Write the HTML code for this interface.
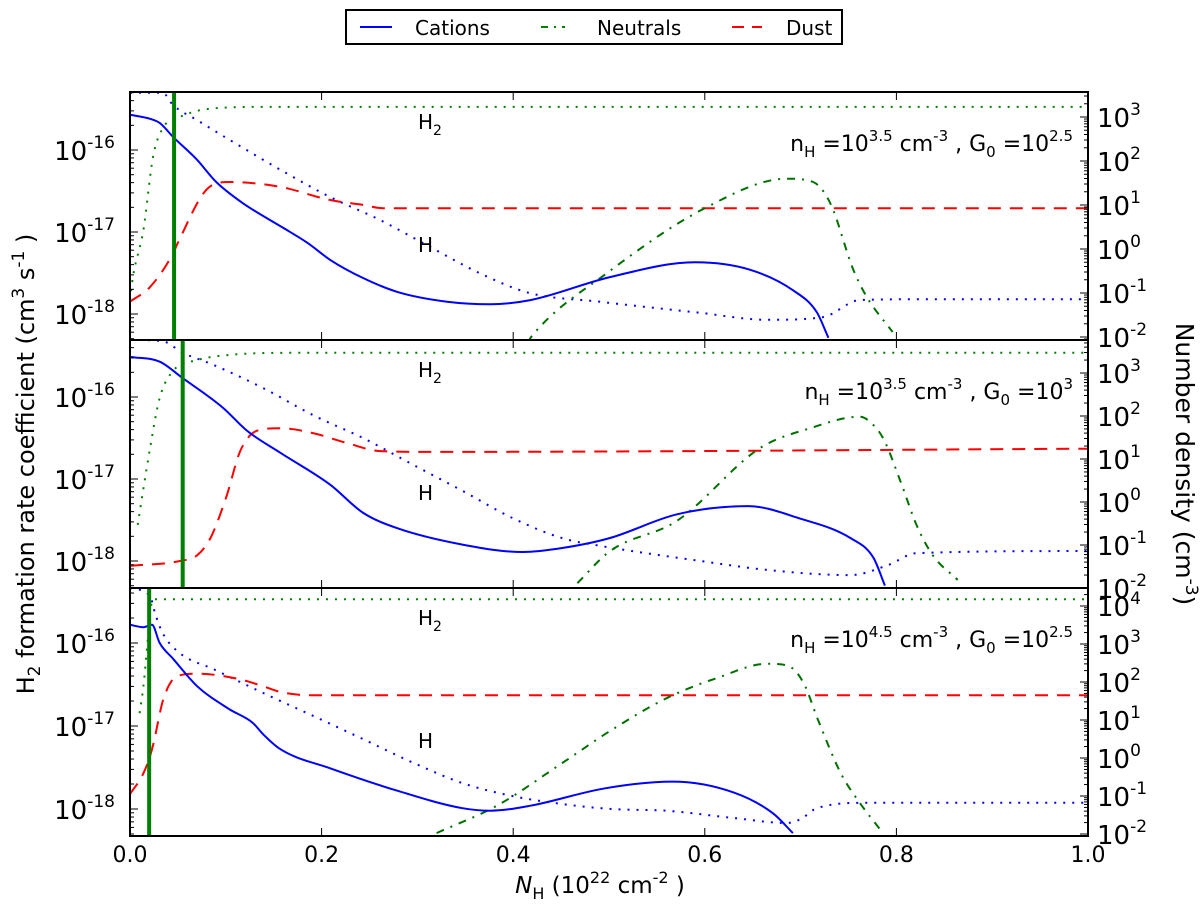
<!DOCTYPE html>
<html><head><meta charset="utf-8"><style>
html,body{margin:0;padding:0;background:#fff;}
svg{display:block;font-family:"DejaVu Sans","Liberation Sans",sans-serif;}
</style></head><body>
<svg id="chart" width="1200" height="912" viewBox="0 0 1200 912" xmlns="http://www.w3.org/2000/svg">
<g>
<rect x="346" y="10" width="496" height="34" fill="#fff" stroke="#000" stroke-width="2"/>
<line x1="360" y1="27" x2="392" y2="27" stroke="#0000ff" stroke-width="2"/>
<text x="415" y="35" font-size="20">Cations</text>
<line x1="541" y1="27" x2="565" y2="27" stroke="#008000" stroke-width="2" stroke-dasharray="7,6,2,6"/>
<text x="597" y="35" font-size="20">Neutrals</text>
<line x1="732" y1="27" x2="762" y2="27" stroke="#ff0000" stroke-width="2" stroke-dasharray="12,8"/>
<text x="786" y="35" font-size="20">Dust</text>
</g>
<text transform="translate(34,464) rotate(-90)" text-anchor="middle" font-size="24">H<tspan dy="6" font-size="17">2</tspan><tspan dy="-6"> formation rate coefficient (cm</tspan><tspan dy="-10" font-size="17">3</tspan><tspan dy="10"> s</tspan><tspan dy="-10" font-size="17">-1</tspan><tspan dy="10"> )</tspan></text>
<text transform="translate(1176,464) rotate(90)" text-anchor="middle" font-size="25">Number density (cm<tspan dy="-10" font-size="17">-3</tspan><tspan dy="10">)</tspan></text>
<text x="600" y="893" text-anchor="middle" font-size="23"><tspan font-style="italic">N</tspan><tspan dy="6" font-size="16">H</tspan><tspan dy="-6"> (10</tspan><tspan dy="-10" font-size="16">22</tspan><tspan dy="10">  cm</tspan><tspan dy="-10" font-size="16">-2</tspan><tspan dy="10"> )</tspan></text>
<g id="plots"></g>
</svg>
<script>
// ---------- data (x: N_H in 1e22 cm^-2, y: log10 values) ----------
const xTicks=[0,0.2,0.4,0.6,0.8,1.0];
const xTickLabels=["0.0","0.2","0.4","0.6","0.8","1.0"];
const leftTicks=[-16,-17,-18];
const leftTickLabels=["-16","-17","-18"];
const rightTicksA=[3,2,1,0,-1,-2];
const rightTicksC=[4,3,2,1,0,-1,-2];
const panelLabelsNH=["3.5","3.5","4.5"];
const panelLabelsG0=["2.5","3","2.5"];
const shieldTop=0.046, shieldMid=0.055, shieldBot=0.020;

// top panel
const catTopX=[0,0.021,0.031,0.045,0.070,0.090,0.118,0.160,0.185,0.209,0.243,0.279,0.331,0.376,0.418,0.501,0.59,0.647,0.692,0.717,0.729];
const catTopY=[-15.57,-15.62,-15.67,-15.84,-16.12,-16.39,-16.65,-16.95,-17.13,-17.34,-17.56,-17.73,-17.85,-17.88,-17.83,-17.55,-17.37,-17.46,-17.71,-17.98,-18.29];
const dustTopX=[0,0.021,0.045,0.05,0.083,0.104,0.157,0.209,0.243,0.264,1.0];
const dustTopY=[-17.85,-17.67,-17.26,-17.13,-16.45,-16.39,-16.45,-16.61,-16.67,-16.71,-16.71];
const neuTopX=[0.415,0.42,0.498,0.60,0.686,0.713,0.731,0.755,0.769,0.796];
const neuTopY=[-18.35,-18.26,-17.50,-16.71,-16.35,-16.39,-16.65,-17.46,-17.79,-18.22];
const h2TopX=[0,0.003,0.014,0.024,0.035,0.052,0.080,0.138,1.0];
const h2TopY=[-1.16,-0.64,0.43,2.09,2.77,3.0,3.18,3.23,3.23];
const hTopX=[0,0.034,0.045,0.070,0.104,0.157,0.209,0.261,0.313,0.365,0.417,0.491,0.595,0.665,0.723,0.762,0.838,1.0];
const hTopY=[3.55,3.55,3.27,2.93,2.48,1.80,1.18,0.66,0.05,-0.55,-1.0,-1.2,-1.45,-1.61,-1.55,-1.16,-1.14,-1.14];

// middle panel
const catMidX=[0,0.031,0.055,0.097,0.122,0.157,0.209,0.243,0.279,0.347,0.410,0.452,0.501,0.571,0.645,0.699,0.752,0.776,0.788];
const catMidY=[-15.51,-15.57,-15.77,-16.13,-16.41,-16.68,-17.07,-17.41,-17.60,-17.80,-17.89,-17.84,-17.72,-17.43,-17.33,-17.48,-17.72,-17.96,-18.3];
const dustMidX=[0,0.052,0.070,0.084,0.101,0.115,0.133,0.157,0.191,0.226,0.261,0.313,1.0];
const dustMidY=[-18.06,-18.0,-17.93,-17.72,-17.20,-16.66,-16.41,-16.38,-16.44,-16.56,-16.66,-16.67,-16.63];
const neuMidX=[0.467,0.501,0.571,0.658,0.71,0.762,0.77,0.786,0.804,0.821,0.838,0.864];
const neuMidY=[-18.27,-17.88,-17.51,-16.62,-16.38,-16.24,-16.28,-16.50,-17.02,-17.56,-17.93,-18.23];
const h2MidX=[0.008,0.021,0.031,0.045,0.070,0.104,0.174,1.0];
const h2MidY=[-0.53,1.26,2.42,3.05,3.30,3.42,3.47,3.47];
const hMidX=[0,0.034,0.055,0.087,0.139,0.191,0.243,0.296,0.347,0.399,0.451,0.491,0.595,0.665,0.752,0.791,0.821,1.0];
const hMidY=[3.77,3.74,3.47,3.19,2.65,2.02,1.49,0.86,0.26,-0.37,-0.84,-1.02,-1.37,-1.58,-1.70,-1.47,-1.19,-1.14];

// bottom panel
const catBotX=[0,0.014,0.023,0.031,0.045,0.070,0.104,0.128,0.139,0.157,0.209,0.279,0.347,0.376,0.418,0.496,0.566,0.630,0.671,0.692];
const catBotY=[-15.78,-15.81,-15.78,-16.0,-16.19,-16.52,-16.80,-16.96,-17.10,-17.28,-17.51,-17.78,-17.99,-18.02,-17.96,-17.75,-17.67,-17.80,-18.05,-18.29];
const dustBotX=[0,0.014,0.023,0.035,0.049,0.070,0.112,0.139,0.157,0.191,1.0];
const dustBotY=[-17.82,-17.57,-17.28,-16.67,-16.40,-16.37,-16.43,-16.52,-16.59,-16.63,-16.63];
const neuBotX=[0.32,0.383,0.452,0.501,0.561,0.613,0.665,0.686,0.703,0.718,0.742,0.762,0.786];
const neuBotY=[-18.29,-17.96,-17.44,-17.06,-16.66,-16.42,-16.25,-16.27,-16.48,-16.92,-17.57,-17.93,-18.29];
const h2BotX=[0.010,0.014,0.018,0.021,0.024,1.0];
const h2BotY=[1.18,1.89,2.95,3.82,4.18,4.18];
const hBotX=[0,0.021,0.026,0.034,0.052,0.087,0.139,0.191,0.243,0.296,0.347,0.399,0.451,0.501,0.561,0.630,0.686,0.700,0.717,0.769,1.0];
const hBotY=[4.47,4.26,3.82,3.29,2.76,2.34,1.71,1.11,0.50,-0.13,-0.66,-1.0,-1.21,-1.34,-1.39,-1.58,-1.71,-1.61,-1.32,-1.18,-1.18];

// ---------- layout ----------
const NS="http://www.w3.org/2000/svg";
const X0=130,X1=1088,PH=248;
const panels=[
 {y0:92, lOff:58,lDec:82, rRef:3,rY:117,rDec:44, rTicks:rightTicksA, cx:catTopX,cy:catTopY,dx:dustTopX,dy:dustTopY,nx:neuTopX,ny:neuTopY,h2x:h2TopX,h2y:h2TopY,hx:hTopX,hy:hTopY,shield:shieldTop,name:"top"},
 {y0:340,lOff:57,lDec:82, rRef:3,rY:373,rDec:43, rTicks:rightTicksA, cx:catMidX,cy:catMidY,dx:dustMidX,dy:dustMidY,nx:neuMidX,ny:neuMidY,h2x:h2MidX,h2y:h2MidY,hx:hMidX,hy:hMidY,shield:shieldMid,name:"middle"},
 {y0:588,lOff:55,lDec:83, rRef:4,rY:606,rDec:38, rTicks:rightTicksC, cx:catBotX,cy:catBotY,dx:dustBotX,dy:dustBotY,nx:neuBotX,ny:neuBotY,h2x:h2BotX,h2y:h2BotY,hx:hBotX,hy:hBotY,shield:shieldBot,name:"bottom"}
];
const xs=v=>X0+v*(X1-X0);
const root=document.getElementById('plots');
function mk(tag,attrs,parent){const e=document.createElementNS(NS,tag);for(const k in attrs)e.setAttribute(k,attrs[k]);(parent||root).appendChild(e);return e;}
// monotone cubic (Fritsch-Carlson) path in x
function smooth(pts){
 const n=pts.length;
 const dl=[],m=[];
 for(let i=0;i<n-1;i++)dl.push((pts[i+1][1]-pts[i][1])/Math.max(1e-6,pts[i+1][0]-pts[i][0]));
 for(let i=0;i<n;i++){
  if(i==0)m.push(dl[0]);else if(i==n-1)m.push(dl[n-2]);
  else m.push(dl[i-1]*dl[i]<=0?0:(dl[i-1]+dl[i])/2);
 }
 for(let i=0;i<n-1;i++){
  if(dl[i]==0){m[i]=0;m[i+1]=0;continue;}
  const a=m[i]/dl[i],b=m[i+1]/dl[i],s=a*a+b*b;
  if(s>9){const t=3/Math.sqrt(s);m[i]=t*a*dl[i];m[i+1]=t*b*dl[i];}
 }
 let d='M'+pts[0][0].toFixed(1)+','+pts[0][1].toFixed(1);
 for(let i=0;i<n-1;i++){
  const h=(pts[i+1][0]-pts[i][0])/3;
  d+=' C'+(pts[i][0]+h).toFixed(1)+','+(pts[i][1]+m[i]*h).toFixed(1)+' '+(pts[i+1][0]-h).toFixed(1)+','+(pts[i+1][1]-m[i+1]*h).toFixed(1)+' '+pts[i+1][0].toFixed(1)+','+pts[i+1][1].toFixed(1);
 }
 return d;
}

panels.forEach((p,i)=>{
 const yl=v=>p.y0+p.lOff+(-16-v)*p.lDec;
 const yr=v=>p.rY+(p.rRef-v)*p.rDec;
 const g=mk('g',{});
 
 
 const cp=mk('clipPath',{id:'clip'+i},g);
 mk('rect',{x:X0,y:p.y0,width:X1-X0,height:PH},cp);
 const sg=mk('g',{'clip-path':'url(#clip'+i+')'},g);
 function line(xa,ya,f,st,name){
  const pts=xa.map((x,k)=>[xs(x),f(ya[k])]);
  const e=mk('path',Object.assign({d:smooth(pts),fill:'none','stroke-width':2,'stroke-linejoin':'round'},st),sg);
  
  
 }
 line(p.h2x,p.h2y,yr,{stroke:'#008000','stroke-dasharray':'2,7'},'h2-density-line-'+p.name);
 line(p.hx,p.hy,yr,{stroke:'#0000ff','stroke-dasharray':'2,7'},'h-density-line-'+p.name);
 line(p.dx,p.dy,yl,{stroke:'#ff0000','stroke-dasharray':'13,9'},'dust-line-'+p.name);
 line(p.nx,p.ny,yl,{stroke:'#007000','stroke-dasharray':'8,7,2,7'},'neutrals-line-'+p.name);
 line(p.cx,p.cy,yl,{stroke:'#0000ff'},'cations-line-'+p.name);
 const sh=mk('line',{x1:xs(p.shield),x2:xs(p.shield),y1:p.y0,y2:p.y0+PH,stroke:'#007f00','stroke-width':4},sg);
 
 
 const tg=mk('g',{stroke:'#000','stroke-width':1},g);
 xTicks.forEach(t=>{const x=xs(t);mk('line',{x1:x,x2:x,y1:p.y0,y2:p.y0+8},tg);mk('line',{x1:x,x2:x,y1:p.y0+PH,y2:p.y0+PH-8},tg);});
 for(let d=-19;d<=-15;d++)for(let m=1;m<10;m++){const y=yl(d+Math.log10(m));if(y<p.y0||y>p.y0+PH)continue;mk('line',{x1:X0,x2:X0+(m==1?8:4),y1:y,y2:y},tg);}
 for(let d=-3;d<=5;d++)for(let m=1;m<10;m++){const y=yr(d+Math.log10(m));if(y<p.y0||y>p.y0+PH)continue;mk('line',{x1:X1,x2:X1-(m==1?8:4),y1:y,y2:y},tg);}
 leftTicks.forEach((t,k)=>{const y=yl(t);const tx=mk('text',{x:115,y:y+10,'text-anchor':'end','font-size':26});tx.innerHTML='10<tspan dy="-12" font-size="17">'+leftTickLabels[k]+'</tspan>';
  });
 p.rTicks.forEach(t=>{const y=yr(t);const tx=mk('text',{x:1097,y:y+10,'font-size':26});tx.innerHTML='10<tspan dy="-12" font-size="17">'+t+'</tspan>';
  });
 const fr=mk('rect',{x:X0,y:p.y0,width:X1-X0,height:PH,fill:'none',stroke:'#000','stroke-width':2},g);
 
 const a=mk('text',{x:1073,y:p.y0+59,'text-anchor':'end','font-size':22});
 a.innerHTML='n<tspan dy="6" font-size="15">H</tspan><tspan dy="-6"> =10</tspan><tspan dy="-10" font-size="15">'+panelLabelsNH[i]+'</tspan><tspan dy="10">  cm</tspan><tspan dy="-10" font-size="15">-3</tspan><tspan dy="10"> , G</tspan><tspan dy="6" font-size="15">0</tspan><tspan dy="-6"> =10</tspan><tspan dy="-10" font-size="15">'+panelLabelsG0[i]+'</tspan>';
 
 const l1=mk('text',{x:418,y:p.y0+37,'font-size':20});l1.innerHTML='H<tspan dy="6" font-size="14">2</tspan>';
 
 const l2=mk('text',{x:418,y:p.y0+160,'font-size':20});l2.textContent='H';
 
});
xTicks.forEach((t,k)=>{const tx=mk('text',{x:xs(t),y:862,'text-anchor':'middle','font-size':22});tx.textContent=xTickLabels[k];
 });
</script>
</body></html>
